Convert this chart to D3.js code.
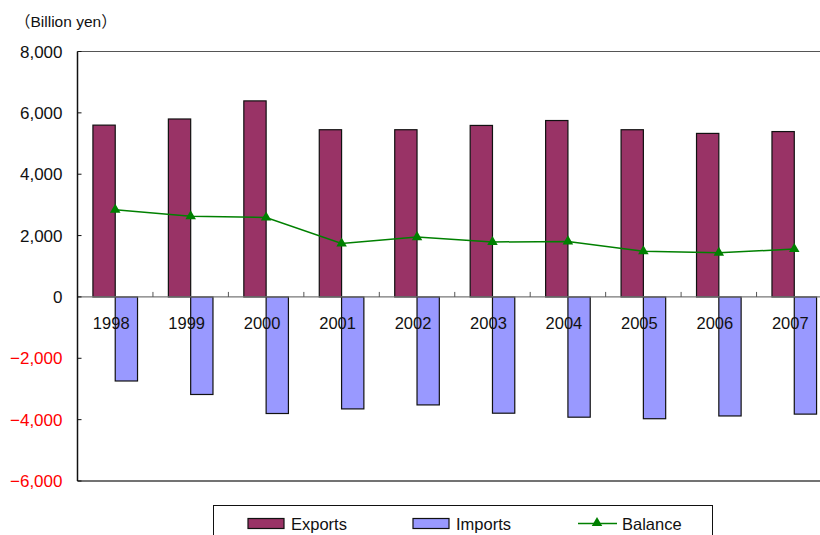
<!DOCTYPE html>
<html>
<head>
<meta charset="utf-8">
<script src="https://cdn.jsdelivr.net/npm/d3@7"></script>
<style>
  body { margin: 0; background: #fff; }
  svg { display: block; }
  text { font-family: "Liberation Sans", "Noto Sans CJK JP", sans-serif; }
</style>
</head>
<body>
<script>
// values (billion yen)
var years = ["1998","1999","2000","2001","2002","2003","2004","2005","2006","2007"];
var exportsVals = [5600, 5800, 6390, 5450, 5450, 5590, 5750, 5450, 5330, 5390];
var importsVals = [-2740, -3180, -3800, -3650, -3520, -3790, -3920, -3970, -3880, -3820];
var balanceVals = [2840, 2630, 2590, 1740, 1950, 1790, 1810, 1490, 1440, 1560];
var yTicks = [-6000, -4000, -2000, 0, 2000, 4000, 6000, 8000];
var seriesNames = ["Exports", "Imports", "Balance"];

var width = 820, height = 535;
var colExp = "#993366", colImp = "#9999ff", colBal = "#008000";
var plot = {left: 77.5, top: 51.5, bottom: 481, right: 832};
var barW = 22.3;

var svg = d3.select("body").append("svg")
	.attr("width", width)
	.attr("height", height);

var x = d3.scaleBand().domain(years).range([plot.left, plot.right]).padding(0);
var y = d3.scaleLinear().domain([-6000, 8000]).range([plot.bottom, plot.top]);
var cx = function(d) { return x(d) + x.bandwidth() / 2; };
var fmt = d3.format(",");

// plot frame (top and bottom edges)
svg.append("line")
	.attr("x1", plot.left).attr("x2", width)
	.attr("y1", plot.top).attr("y2", plot.top)
	.attr("stroke", "#555").attr("stroke-width", 1.2);
svg.append("line")
	.attr("x1", plot.left).attr("x2", width)
	.attr("y1", plot.bottom).attr("y2", plot.bottom)
	.attr("stroke", "#444").attr("stroke-width", 1.5);

// bars
svg.append("g").selectAll("rect").data(years).enter().append("rect")
	.attr("x", function(d) { return cx(d) - barW; })
	.attr("y", function(d, i) { return y(exportsVals[i]); })
	.attr("width", barW)
	.attr("height", function(d, i) { return y(0) - y(exportsVals[i]); })
	.attr("fill", colExp).attr("stroke", "#111").attr("stroke-width", 1.2);

svg.append("g").selectAll("rect").data(years).enter().append("rect")
	.attr("x", function(d) { return cx(d); })
	.attr("y", y(0))
	.attr("width", barW)
	.attr("height", function(d, i) { return y(importsVals[i]) - y(0); })
	.attr("fill", colImp).attr("stroke", "#111").attr("stroke-width", 1.2);

// zero line with category ticks
svg.append("line")
	.attr("x1", plot.left).attr("x2", width)
	.attr("y1", y(0)).attr("y2", y(0))
	.attr("stroke", "#777").attr("stroke-width", 1.2);
svg.append("g").selectAll("line").data(years.slice(1)).enter().append("line")
	.attr("x1", function(d) { return x(d); }).attr("x2", function(d) { return x(d); })
	.attr("y1", y(0)).attr("y2", y(0) - 5)
	.attr("stroke", "#555");

// year labels
svg.append("g").selectAll("text").data(years).enter().append("text")
	.attr("x", function(d) { return cx(d) - 4; })
	.attr("y", 329)
	.attr("text-anchor", "middle")
	.attr("font-size", "16.5px")
	.attr("fill", "#111")
	.text(function(d) { return d; });

// balance line
var line = d3.line()
	.x(function(d, i) { return cx(years[i]); })
	.y(function(d) { return y(d); });
svg.append("path").datum(balanceVals)
	.attr("d", line)
	.attr("fill", "none").attr("stroke", colBal).attr("stroke-width", 1.5);
var tri = d3.symbol().type(d3.symbolTriangle).size(48);
svg.append("g").selectAll("path").data(balanceVals).enter().append("path")
	.attr("d", tri)
	.attr("transform", function(d, i) { return "translate(" + cx(years[i]) + "," + y(d) + ")"; })
	.attr("fill", colBal);

// y axis
var yAxis = svg.append("g").attr("transform", "translate(" + plot.left + ",0)");
yAxis.append("line")
	.attr("y1", plot.top).attr("y2", plot.bottom)
	.attr("stroke", "#111").attr("stroke-width", 1.5);
yAxis.selectAll(".tk").data(yTicks).enter().append("line")
	.attr("x1", 0).attr("x2", 4)
	.attr("y1", function(d) { return y(d); }).attr("y2", function(d) { return y(d); })
	.attr("stroke", "#111");
yAxis.selectAll("text").data(yTicks).enter().append("text")
	.attr("x", -15)
	.attr("y", function(d) { return y(d); })
	.attr("dy", "0.36em")
	.attr("text-anchor", "end")
	.attr("font-size", "17px")
	.attr("fill", function(d) { return d < 0 ? "#ff0000" : "#111"; })
	.text(function(d) { return d < 0 ? "\u2212" + fmt(-d) : fmt(d); });

// unit label
svg.append("text")
	.attr("x", 15).attr("y", 27)
	.attr("font-size", "15.5px")
	.attr("fill", "#111")
	.text("\uff08Billion yen\uff09");

// legend
var legend = svg.append("g");
legend.append("rect")
	.attr("x", 213.5).attr("y", 505.5)
	.attr("width", 499).attr("height", 40)
	.attr("fill", "#fff").attr("stroke", "#111");
var legX = [248, 413, 578];
legend.append("rect").attr("x", legX[0]).attr("y", 518.5).attr("width", 36).attr("height", 10)
	.attr("fill", colExp).attr("stroke", "#111").attr("stroke-width", 1.2);
legend.append("rect").attr("x", legX[1]).attr("y", 518.5).attr("width", 36).attr("height", 10)
	.attr("fill", colImp).attr("stroke", "#111").attr("stroke-width", 1.2);
legend.append("line").attr("x1", legX[2]).attr("x2", legX[2] + 39)
	.attr("y1", 523.5).attr("y2", 523.5)
	.attr("stroke", colBal).attr("stroke-width", 1.5);
legend.append("path").attr("d", tri)
	.attr("transform", "translate(" + (legX[2] + 19) + ",523)")
	.attr("fill", colBal);
legend.selectAll("text.lg").data(seriesNames).enter().append("text")
	.attr("x", function(d, i) { return legX[i] + (i == 2 ? 44 : 43); })
	.attr("y", 529.5)
	.attr("font-size", "16.5px")
	.attr("fill", "#111")
	.text(function(d) { return d; });
</script>
</body>
</html>
